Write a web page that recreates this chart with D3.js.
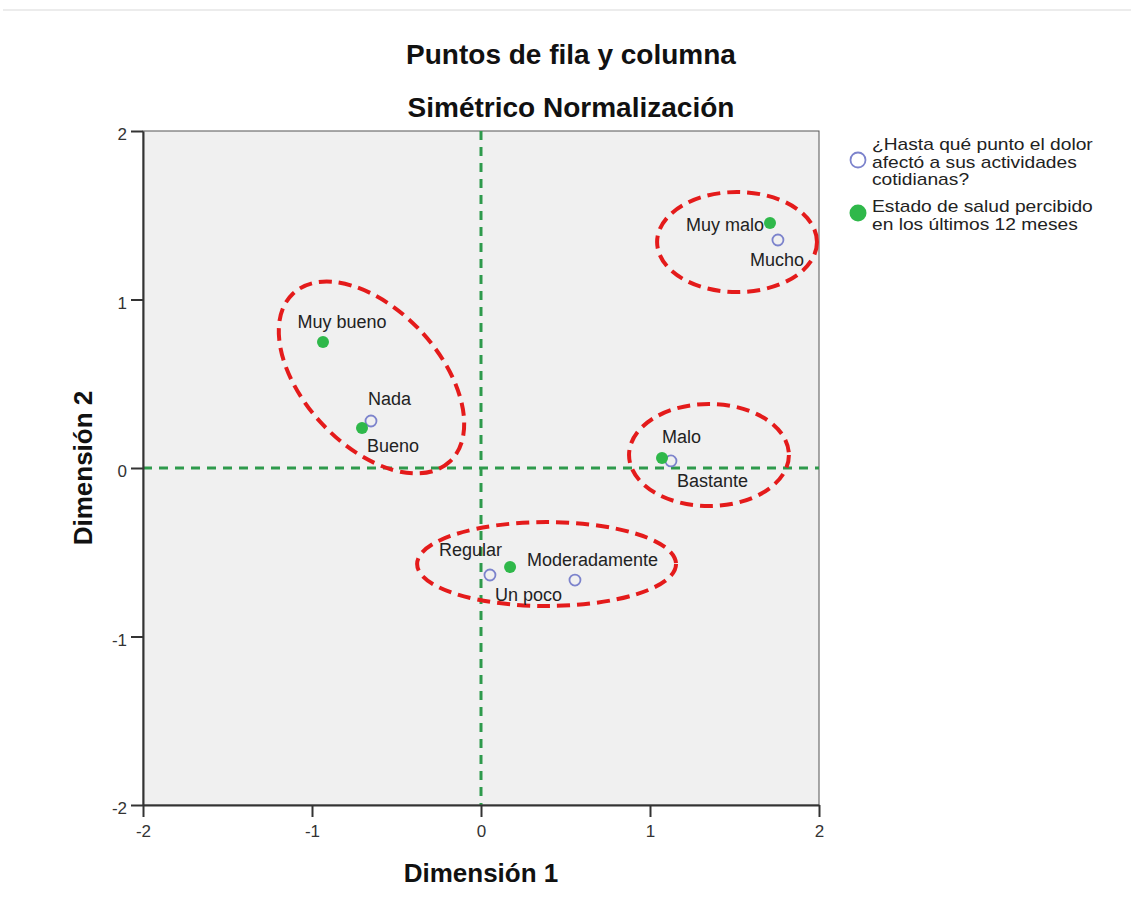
<!DOCTYPE html>
<html><head><meta charset="utf-8">
<script src="https://cdn.jsdelivr.net/npm/d3@7"></script>
<style>
body{margin:0;background:#fff;}
text{font-family:"Liberation Sans",Arial,sans-serif;}
</style></head>
<body><svg id="c" width="1131" height="909"></svg>
<script>
// ---- data ----
const rowLabels = ["Muy bueno","Bueno","Regular","Malo","Muy malo"]; // Estado de salud
const rowDim1 = [-0.935,-0.704,0.172,1.071,1.710];
const rowDim2 = [0.748,0.237,-0.588,0.059,1.454];
const colLabels = ["Nada","Un poco","Moderadamente","Bastante","Mucho"]; // dolor
const colDim1 = [-0.651,0.053,0.556,1.124,1.757];
const colDim2 = [0.279,-0.635,-0.665,0.042,1.353];
const ticks = [-2,-1,0,1,2];
// highlight ellipses (data units, angle in degrees)
const ellCx = [1.515,-0.648,1.349,0.388];
const ellCy = [1.341,0.537,0.077,-0.570];
const ellRx = [0.473,0.680,0.473,0.766];
const ellRy = [0.297,0.402,0.303,0.249];
const ellAng = [0,47,0,0];
const legendText = [["¿Hasta qué punto el dolor","afectó a sus actividades","cotidianas?"],["Estado de salud percibido","en los últimos 12 meses"]];

// label placement: [dx, dy, anchor]
const rowLabPos = [[19,-14,"middle"],[5,24,"start"],[-8,-11,"end"],[0,-15,"start"],[-6,8,"end"]];
const colLabPos = [[-3,-16,"start"],[5,26,"start"],[-48,-14,"start"],[6,26,"start"],[-1,26,"middle"]];

const svg = d3.select("#c");
const x = d3.scaleLinear().domain([-2,2]).range([143,819]);
const y = d3.scaleLinear().domain([-2,2]).range([805,131]);

svg.append("line").attr("x1",3).attr("x2",1131).attr("y1",10).attr("y2",10)
  .attr("stroke","#ececec").attr("stroke-width",2);

svg.append("rect").attr("x",x(-2)).attr("y",y(2)).attr("width",x(2)-x(-2)).attr("height",y(-2)-y(2))
  .attr("fill","#f0f0f0").attr("stroke","#555").attr("stroke-width",1);

// reference lines
const refG="#2e9a4c";
svg.append("line").attr("x1",x(0)).attr("x2",x(0)).attr("y1",y(2)).attr("y2",y(-2))
  .attr("stroke",refG).attr("stroke-width",3).attr("stroke-dasharray","9,7");
svg.append("line").attr("x1",x(-2)).attr("x2",x(2)).attr("y1",y(0)).attr("y2",y(0))
  .attr("stroke",refG).attr("stroke-width",3).attr("stroke-dasharray","9,7");

// axes
const fmt = d => String(d);
const xa = svg.append("g").attr("transform",`translate(0,${y(-2)})`)
  .call(d3.axisBottom(x).tickValues(ticks).tickFormat(fmt).tickSize(12).tickSizeOuter(0));
const ya = svg.append("g").attr("transform",`translate(${x(-2)},0)`)
  .call(d3.axisLeft(y).tickValues(ticks).tickFormat(fmt).tickSize(12).tickSizeOuter(0));
[xa,ya].forEach(g=>{
  g.select(".domain").attr("stroke","#333").attr("stroke-width",2);
  g.selectAll(".tick line").attr("stroke","#333").attr("stroke-width",2);
  g.selectAll(".tick text").attr("fill","#333").attr("font-size",17).attr("font-family","Liberation Sans, Arial");
});
ya.selectAll(".tick text").attr("x",-16).attr("y",3).attr("dy","0.35em");
xa.selectAll(".tick text").attr("y",20);

// ellipses
const kx = x(1)-x(0), ky = y(0)-y(1);
ellCx.forEach((cx,i)=>{
  svg.append("ellipse")
    .attr("transform",`translate(${x(cx)},${y(ellCy[i])}) rotate(${ellAng[i]})`)
    .attr("rx",ellRx[i]*kx).attr("ry",ellRy[i]*ky)
    .attr("fill","none").attr("stroke","#e41b1b").attr("stroke-width",4)
    .attr("stroke-dasharray","13,7");
});

// points
const green="#2fb84a", blue="#7c83cc";
colLabels.forEach((l,i)=>{
  svg.append("circle").attr("cx",x(colDim1[i])).attr("cy",y(colDim2[i])).attr("r",5.5)
    .attr("fill","none").attr("stroke",blue).attr("stroke-width",1.8);
});
rowLabels.forEach((l,i)=>{
  svg.append("circle").attr("cx",x(rowDim1[i])).attr("cy",y(rowDim2[i])).attr("r",6)
    .attr("fill",green);
});
// labels
const labFs = 18;
rowLabels.forEach((l,i)=>{
  const p=rowLabPos[i];
  svg.append("text").attr("x",x(rowDim1[i])+p[0]).attr("y",y(rowDim2[i])+p[1]).attr("text-anchor",p[2])
    .attr("font-size",labFs).attr("fill","#222").text(l);
});
colLabels.forEach((l,i)=>{
  const p=colLabPos[i];
  svg.append("text").attr("x",x(colDim1[i])+p[0]).attr("y",y(colDim2[i])+p[1]).attr("text-anchor",p[2])
    .attr("font-size",labFs).attr("fill","#222").text(l);
});

// titles
svg.append("text").attr("x",571).attr("y",64).attr("text-anchor","middle").attr("font-size",28)
  .attr("font-weight","bold").attr("fill","#111").text("Puntos de fila y columna");
svg.append("text").attr("x",571).attr("y",117).attr("text-anchor","middle").attr("font-size",28)
  .attr("font-weight","bold").attr("fill","#111").text("Simétrico Normalización");
svg.append("text").attr("x",x(0)).attr("y",882).attr("text-anchor","middle").attr("font-size",26)
  .attr("font-weight","bold").attr("fill","#111").text("Dimensión 1");
svg.append("text").attr("transform",`translate(92,${y(0)}) rotate(-90)`).attr("text-anchor","middle")
  .attr("font-size",26).attr("font-weight","bold").attr("fill","#111").text("Dimensión 2");

// legend
const lg = svg.append("g");
lg.append("circle").attr("cx",858).attr("cy",160).attr("r",7.5).attr("fill","none").attr("stroke",blue).attr("stroke-width",1.8);
lg.append("circle").attr("cx",858).attr("cy",213).attr("r",8.5).attr("fill",green);
const legY=[150,212];
legendText.forEach((lines,j)=>{
  lines.forEach((t,k)=>{
    lg.append("text").attr("transform",`translate(872,${legY[j]+k*17.5}) scale(1.2,1)`)
      .attr("font-size",16).attr("fill","#222").text(t);
  });
});
</script></body></html>
